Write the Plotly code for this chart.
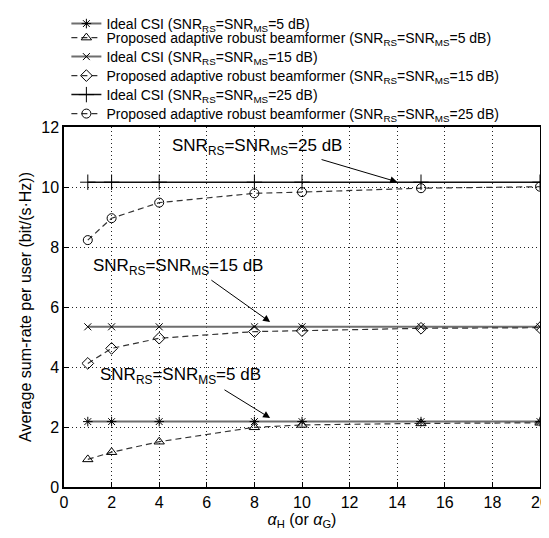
import plotly.graph_objects as go

alpha = [1, 2, 4, 8, 10, 15, 20]
ideal_5 = [2.18, 2.18, 2.18, 2.18, 2.18, 2.18, 2.18]
prop_5 = [0.92, 1.16, 1.51, 1.99, 2.07, 2.12, 2.14]
ideal_15 = [5.34, 5.34, 5.34, 5.34, 5.34, 5.34, 5.34]
prop_15 = [4.12, 4.62, 4.96, 5.18, 5.21, 5.29, 5.31]
ideal_25 = [10.16, 10.16, 10.16, 10.16, 10.16, 10.16, 10.16]
prop_25 = [8.23, 8.96, 9.48, 9.79, 9.83, 9.96, 10.01]

xticks = [0, 2, 4, 6, 8, 10, 12, 14, 16, 18, 20]
yticks = [0, 2, 4, 6, 8, 10, 12]

FONT = "Liberation Sans, Arial, sans-serif"
snr = lambda d: f"SNR<sub>RS</sub>=SNR<sub>MS</sub>={d} dB"

fig = go.Figure()
series = [
    ("Ideal CSI (" + snr(5) + ")", ideal_5, "solid", "#6e6e6e", 2, "asterisk-open", 8),
    ("Proposed adaptive robust beamformer (" + snr(5) + ")", prop_5, "dash", "#333333", 1.2, "triangle-up-open", 9),
    ("Ideal CSI (" + snr(15) + ")", ideal_15, "solid", "#6e6e6e", 2, "x-thin-open", 7),
    ("Proposed adaptive robust beamformer (" + snr(15) + ")", prop_15, "dash", "#333333", 1.2, "diamond-open", 9),
    ("Ideal CSI (" + snr(25) + ")", ideal_25, "solid", "#111111", 1.5, "cross-thin-open", 11),
    ("Proposed adaptive robust beamformer (" + snr(25) + ")", prop_25, "dash", "#333333", 1.2, "circle-open", 9),
]
legend_ids = ["legend", "legend2", "legend3", "legend4", "legend5", "legend6"]
legend_y = [1.3306, 1.2917, 1.2389, 1.1861, 1.1333, 1.0806]

for (name, ys, dash, col, w, sym, sz), lid in zip(series, legend_ids):
    fig.add_trace(go.Scatter(
        x=alpha, y=ys, name=name, mode="lines+markers", cliponaxis=False,
        legend=lid,
        line=dict(color=col, width=w, dash=dash if dash == "solid" else "6px,4px"),
        marker=dict(symbol=sym, size=sz, color="black", line=dict(color="black", width=1)),
    ))

ann = [
    (snr(25), 8.1, 11.34, 10.76, 10.93, 14.0, 10.17),
    (snr(15), 4.8, 7.33, 6.13, 6.93, 8.66, 5.5),
    (snr(5), 4.9, 3.7, 6.68, 3.27, 8.66, 2.3),
]
for txt, tx, ty, ax0, ay0, hx, hy in ann:
    fig.add_annotation(x=tx, y=ty, text=txt, showarrow=False,
                       font=dict(family=FONT, size=17, color="black"))
    fig.add_annotation(x=hx, y=hy, ax=ax0, ay=ay0, axref="x", ayref="y",
                       xref="x", yref="y", text="", showarrow=True,
                       arrowhead=2, arrowsize=1.4, arrowwidth=1, arrowcolor="black")

axis_common = dict(showline=True, linecolor="black", linewidth=1.5, mirror=True,
                   ticks="inside", ticklen=5, tickcolor="black",
                   showgrid=True, gridcolor="#222222", griddash="1px,3px", gridwidth=1,
                   zeroline=False, tickfont=dict(family=FONT, size=16, color="black"))

fig.update_xaxes(range=[0, 20], tickvals=xticks, ticklabeloverflow="allow",
                 title=dict(text="<i>α</i><sub>H</sub> (or <i>α</i><sub>G</sub>)", standoff=4,
                            font=dict(family=FONT, size=16, color="black")),
                 **axis_common)
fig.update_yaxes(range=[0, 12], tickvals=yticks,
                 title=dict(text="Average sum-rate per user (bit/(s·Hz))", standoff=6,
                            font=dict(family=FONT, size=16, color="black")),
                 **axis_common)

legend_layout = {}
for lid, ly in zip(legend_ids, legend_y):
    legend_layout[lid] = dict(x=0.005, y=ly, xanchor="left", yanchor="top",
                              font=dict(family=FONT, size=14, color="black"),
                              bgcolor="rgba(0,0,0,0)", itemwidth=30)

# page body has an 8px margin, so the figure is sized/offset to compensate
fig.update_layout(
    width=541, height=522,
    margin=dict(l=56, r=9, t=119, b=43, autoexpand=False),
    plot_bgcolor="white", paper_bgcolor="white",
    font=dict(family=FONT, color="black"),
    showlegend=True,
    **legend_layout,
)

fig.write_html("out.html")
